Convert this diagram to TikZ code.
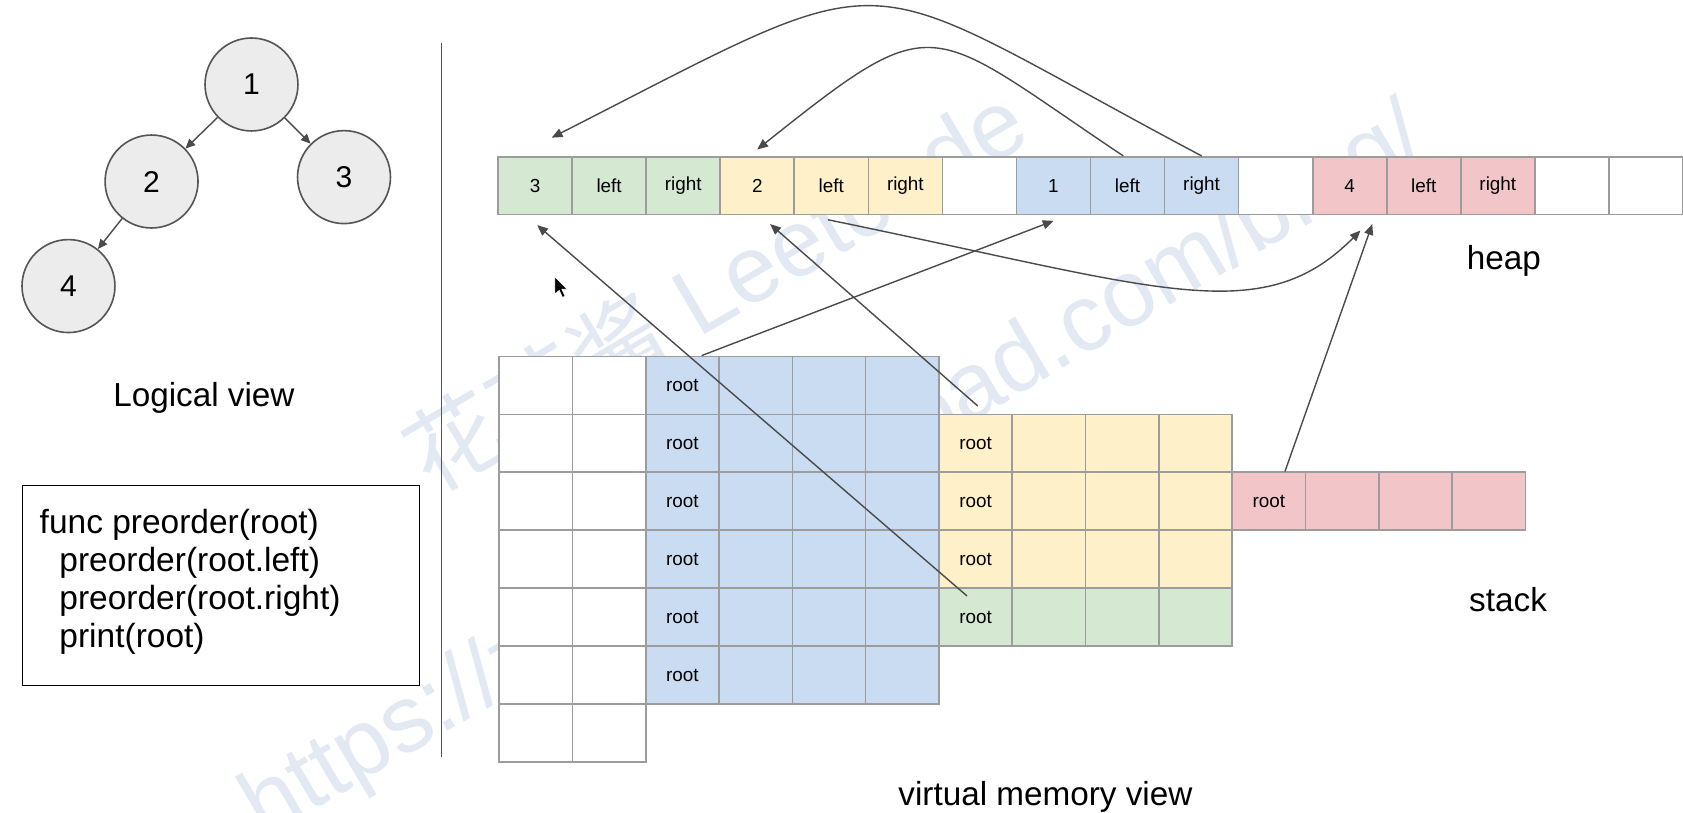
\documentclass[tikz,border=0pt]{standalone}
\usepackage{fontspec}
\setmainfont{Liberation Sans}
\newfontfamily\cjkfont{Noto Sans CJK SC}
\usetikzlibrary{arrows.meta,calc}
\definecolor{cblue}{HTML}{C9DCF1}
\definecolor{cyellow}{HTML}{FEF0C9}
\definecolor{cgreen}{HTML}{D5E8D1}
\definecolor{cred}{HTML}{F2C6C8}
\definecolor{cellgray}{HTML}{9C9C9C}
\definecolor{arrgray}{HTML}{4A4A4A}
\definecolor{tfill}{HTML}{ECECEC}
\definecolor{tdraw}{HTML}{555555}
\definecolor{wmcol}{HTML}{E2E9F3}
\begin{document}
\begin{tikzpicture}[x=0.5pt,y=-0.5pt,
  hcell/.style={draw=cellgray, line width=0.75pt, minimum width=34.5pt, minimum height=27pt, inner sep=0pt, font=\fontsize{8.8}{10}\selectfont},
  scell/.style={draw=cellgray, line width=0.75pt, minimum width=34.15pt, minimum height=27pt, inner sep=0pt, font=\fontsize{8.8}{10}\selectfont},
  tnode/.style={circle, draw=tdraw, line width=0.75pt, fill=tfill, minimum size=43.3pt, inner sep=0pt, font=\fontsize{14}{16}\selectfont},
  arr/.style={draw=arrgray, line width=0.65pt, -{Triangle[length=5pt,width=4.2pt]}},
  tarr/.style={draw=arrgray, line width=0.65pt, -{Triangle[length=4.5pt,width=4pt]}},
  lbl/.style={inner sep=0pt, font=\fontsize{15.5}{18}\selectfont},
  codeline/.style={inner sep=0pt, anchor=base west, font=\fontsize{15.6}{18}\selectfont},
  wm/.style={inner sep=0pt, anchor=base west, text=wmcol, font=\fontsize{44}{50}\selectfont, rotate=30.5}
]
\useasboundingbox (0,0) rectangle (1568,757);
\fill[white] (0,0) rectangle (1568,757);

% watermark
\node[wm] (wm1) at (402,462) {{\cjkfont 花花酱}\ Leetcode};
\node[wm] (wm2) at (246,782) {https://zxi.mytechroad.com/blog/};

% tree
\node[tnode] (n1) at (234.3,78.7) {1};
\node[tnode] (n2) at (141.2,169.1) {2};
\node[tnode] (n3) at (320.5,165) {3};
\node[tnode] (n4) at (63.8,266.5) {4};
\draw[tarr] (n1) -- (n2);
\draw[tarr] (n1) -- (n3);
\draw[tarr] (n2) -- (n4);
\node[lbl, anchor=base] (logical) at (190,378.3) {Logical view};

% code box
\node[draw=black, line width=0.6pt, minimum width=185.15pt, minimum height=93pt, inner sep=0pt, anchor=north west] (codebox) at (20.2,452) {};
\node[codeline] (c1) at (36.6,497) {func preorder(root)};
\node[codeline] (c2) at (55,532.3) {preorder(root.left)};
\node[codeline] (c3) at (55,567.6) {preorder(root.right)};
\node[codeline] (c4) at (55,602.9) {print(root)};

% separator
\coordinate (septop) at (411.5,40);
\coordinate (sepbot) at (411.5,705);
\draw[draw=tdraw, line width=0.6pt] (septop) -- (sepbot);

% heap
\node[hcell, fill=cgreen] (h0) at (498.5+69*0,173) {3};
\node[hcell, fill=cgreen] (h1) at (498.5+69*1,173) {left};
\node[hcell, fill=cgreen] (h2) at (498.5+69*2,173) {right};
\node[hcell, fill=cyellow] (h3) at (498.5+69*3,173) {2};
\node[hcell, fill=cyellow] (h4) at (498.5+69*4,173) {left};
\node[hcell, fill=cyellow] (h5) at (498.5+69*5,173) {right};
\node[hcell, fill=white] (h6) at (498.5+69*6,173) {};
\node[hcell, fill=cblue] (h7) at (498.5+69*7,173) {1};
\node[hcell, fill=cblue] (h8) at (498.5+69*8,173) {left};
\node[hcell, fill=cblue] (h9) at (498.5+69*9,173) {right};
\node[hcell, fill=white] (h10) at (498.5+69*10,173) {};
\node[hcell, fill=cred] (h11) at (498.5+69*11,173) {4};
\node[hcell, fill=cred] (h12) at (498.5+69*12,173) {left};
\node[hcell, fill=cred] (h13) at (498.5+69*13,173) {right};
\node[hcell, fill=white] (h14) at (498.5+69*14,173) {};
\node[hcell, fill=white] (h15) at (498.5+69*15,173) {};
\node[lbl, anchor=base] (heaplbl) at (1401,251) {heap};

% stack
\foreach \r in {0,...,6} {
  \foreach \c in {0,1} {
    \node[scell, fill=white] (s\r-\c) at (499.15+68.3*\c,359+54*\r) {};
  }
}
\foreach \r in {0,...,5} {
  \node[scell, fill=cblue] (s\r-2) at (499.15+68.3*2,359+54*\r) {root};
  \foreach \c in {3,4,5} {
    \node[scell, fill=cblue] (s\r-\c) at (499.15+68.3*\c,359+54*\r) {};
  }
}
\foreach \r/\col in {1/cyellow,2/cyellow,3/cyellow,4/cgreen} {
  \node[scell, fill=\col] (s\r-6) at (499.15+68.3*6,359+54*\r) {root};
  \foreach \c in {7,8,9} {
    \node[scell, fill=\col] (s\r-\c) at (499.15+68.3*\c,359+54*\r) {};
  }
}
\node[scell, fill=cred] (s2-10) at (499.15+68.3*10,359+54*2) {root};
\foreach \c in {11,12,13} {
  \node[scell, fill=cred] (s2-\c) at (499.15+68.3*\c,359+54*2) {};
}
\node[lbl, anchor=base] (stacklbl) at (1405,570) {stack};
\node[lbl, anchor=base] (vmv) at (974,750) {virtual memory view};

% connectors
\draw[arr] (h9.north) .. controls (785,-32) and (850,-43) .. ([xshift=7.75pt,yshift=8.5pt]h0.north);
\draw[arr] ([xshift=-2pt]h8.north) .. controls (862,22) and (875,4) .. ([yshift=3pt]h3.north);
\draw[arr] ([xshift=9pt]s0-2.north) -- ([yshift=-2.5pt]h7.south);
\draw[arr] ([xshift=1pt,yshift=3.5pt]s1-6.north) -- ([xshift=6pt,yshift=-4pt]h3.south);
\draw[arr] ([xshift=-4pt,yshift=-4pt]s4-6.north) -- ([xshift=1pt,yshift=-4.5pt]h0.south);
\draw[arr] ([xshift=7.5pt]s2-10.north) -- ([xshift=10.5pt,yshift=-4pt]h11.south);
\draw[arr] ([xshift=-1.5pt,yshift=-2pt]h4.south) .. controls (1080,268) and (1175,308) .. ([xshift=5pt,yshift=-7pt]h11.south);

% cursor
\fill[black, draw=white, line width=0.3pt] (517,258) -- (517,274) -- (521,270.5) -- (524,277) -- (526.5,276) -- (523.5,269.5) -- (528.5,269.5) -- cycle;
\end{tikzpicture}
\end{document}
